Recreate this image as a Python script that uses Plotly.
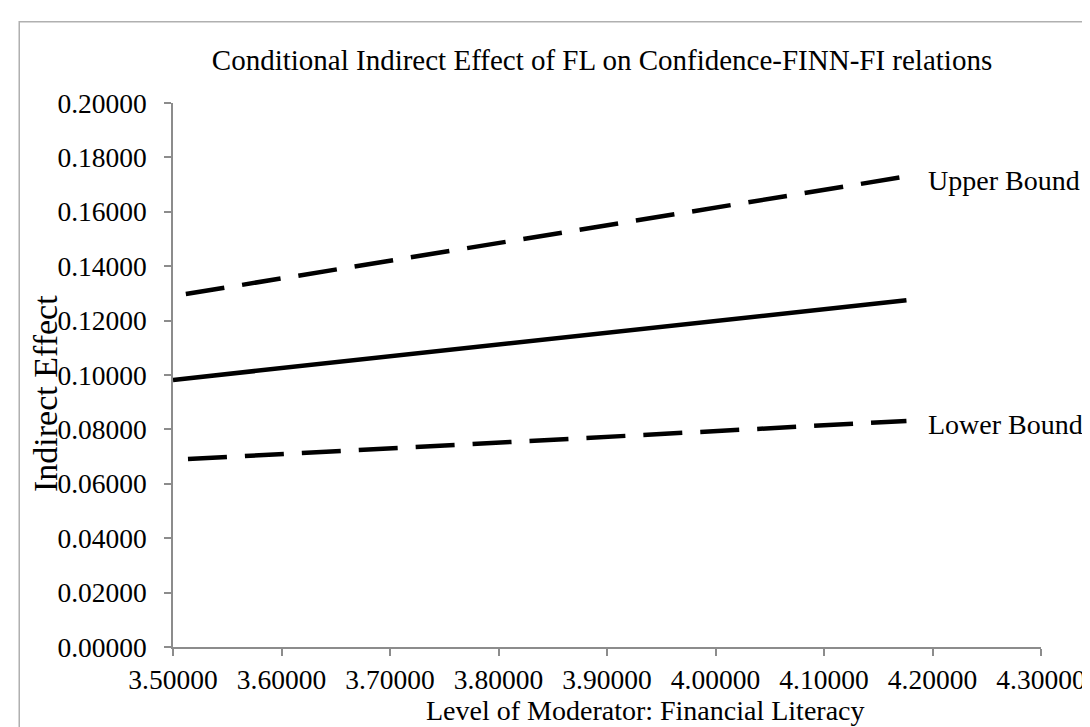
import plotly.graph_objects as go

# Data
moderator = [3.50, 3.838, 4.176]
indirect_effect = [0.0982, 0.1128, 0.1275]
upper_bound = [0.1290, 0.1510, 0.1730]
lower_bound = [0.0688, 0.0760, 0.0831]

x_ticks = [3.5, 3.6, 3.7, 3.8, 3.9, 4.0, 4.1, 4.2, 4.3]
y_ticks = [0.0, 0.02, 0.04, 0.06, 0.08, 0.10, 0.12, 0.14, 0.16, 0.18, 0.20]

FONT = "Liberation Serif, Times New Roman, serif"
AXIS_GRAY = "#8c8c8c"

W, H = 1090, 727
L, R, T, B = 165, 50, 94.5, 87.5
pw, ph = W - L - R, H - T - B

def px_x(p):
    return (p - L) / pw

def px_y(p):
    return (H - B - p) / ph

# long-dash pattern with a short leading gap (Excel "long dash" look)
def dash_pattern(lead):
    return ",".join([f"0px,{lead}px"] + ["39px,18px"] * 16)

fig = go.Figure()
fig.add_trace(go.Scatter(x=moderator, y=upper_bound, mode="lines",
                         line=dict(color="black", width=4.5, dash=dash_pattern(13)),
                         showlegend=False, hoverinfo="skip"))
fig.add_trace(go.Scatter(x=moderator, y=indirect_effect, mode="lines",
                         line=dict(color="black", width=4.5),
                         showlegend=False, hoverinfo="skip"))
fig.add_trace(go.Scatter(x=moderator, y=lower_bound, mode="lines",
                         line=dict(color="black", width=4.5, dash=dash_pattern(15)),
                         showlegend=False, hoverinfo="skip"))

annotations = [
    dict(x=moderator[-1], y=upper_bound[-1], xref="x", yref="y", text="Upper Bound",
         showarrow=False, xanchor="left", yanchor="middle", xshift=20, yshift=-4,
         font=dict(family=FONT, size=28, color="black")),
    dict(x=moderator[-1], y=lower_bound[-1], xref="x", yref="y", text="Lower Bound",
         showarrow=False, xanchor="left", yanchor="middle", xshift=20, yshift=-4,
         font=dict(family=FONT, size=28, color="black")),
    dict(x=px_x(641), y=px_y(703), xref="paper", yref="paper",
         text="Level of Moderator: Financial Literacy", showarrow=False,
         xanchor="center", yanchor="middle",
         font=dict(family=FONT, size=28, color="black")),
    dict(x=px_x(37), y=px_y(386), xref="paper", yref="paper",
         text="Indirect Effect", showarrow=False, textangle=-90,
         xanchor="center", yanchor="middle",
         font=dict(family=FONT, size=34, color="black")),
]

fig.update_layout(
    width=W, height=H,
    margin=dict(l=L, r=R, t=T, b=B, pad=0),
    paper_bgcolor="white", plot_bgcolor="white",
    title=dict(text="Conditional Indirect Effect of FL on Confidence-FINN-FI relations",
               x=594 / W, y=1 - 52 / H, xanchor="center", yanchor="middle",
               xref="container", yref="container",
               font=dict(family=FONT, size=29, color="black")),
    annotations=annotations,
    shapes=[dict(type="rect", xref="paper", yref="paper",
                 x0=px_x(10), x1=px_x(1110), y0=px_y(760), y1=px_y(13),
                 line=dict(color="#b0b0b0", width=1.5), layer="below")],
)

fig.update_xaxes(range=[3.5, 4.3], tickvals=x_ticks, tickformat=".5f",
                 showgrid=False, zeroline=False, showline=True,
                 linecolor=AXIS_GRAY, linewidth=1.5,
                 ticks="outside", ticklen=7, tickcolor=AXIS_GRAY, tickwidth=1.5,
                 tickfont=dict(family=FONT, size=27.5, color="black"))
fig.update_yaxes(range=[0, 0.2], tickvals=y_ticks, tickformat=".5f",
                 showgrid=False, zeroline=False, showline=True,
                 linecolor=AXIS_GRAY, linewidth=1.5,
                 ticks="outside", ticklen=7, tickcolor=AXIS_GRAY, tickwidth=1.5,
                 ticklabelstandoff=12,
                 tickfont=dict(family=FONT, size=27.5, color="black"))

fig.write_html("out.html")
